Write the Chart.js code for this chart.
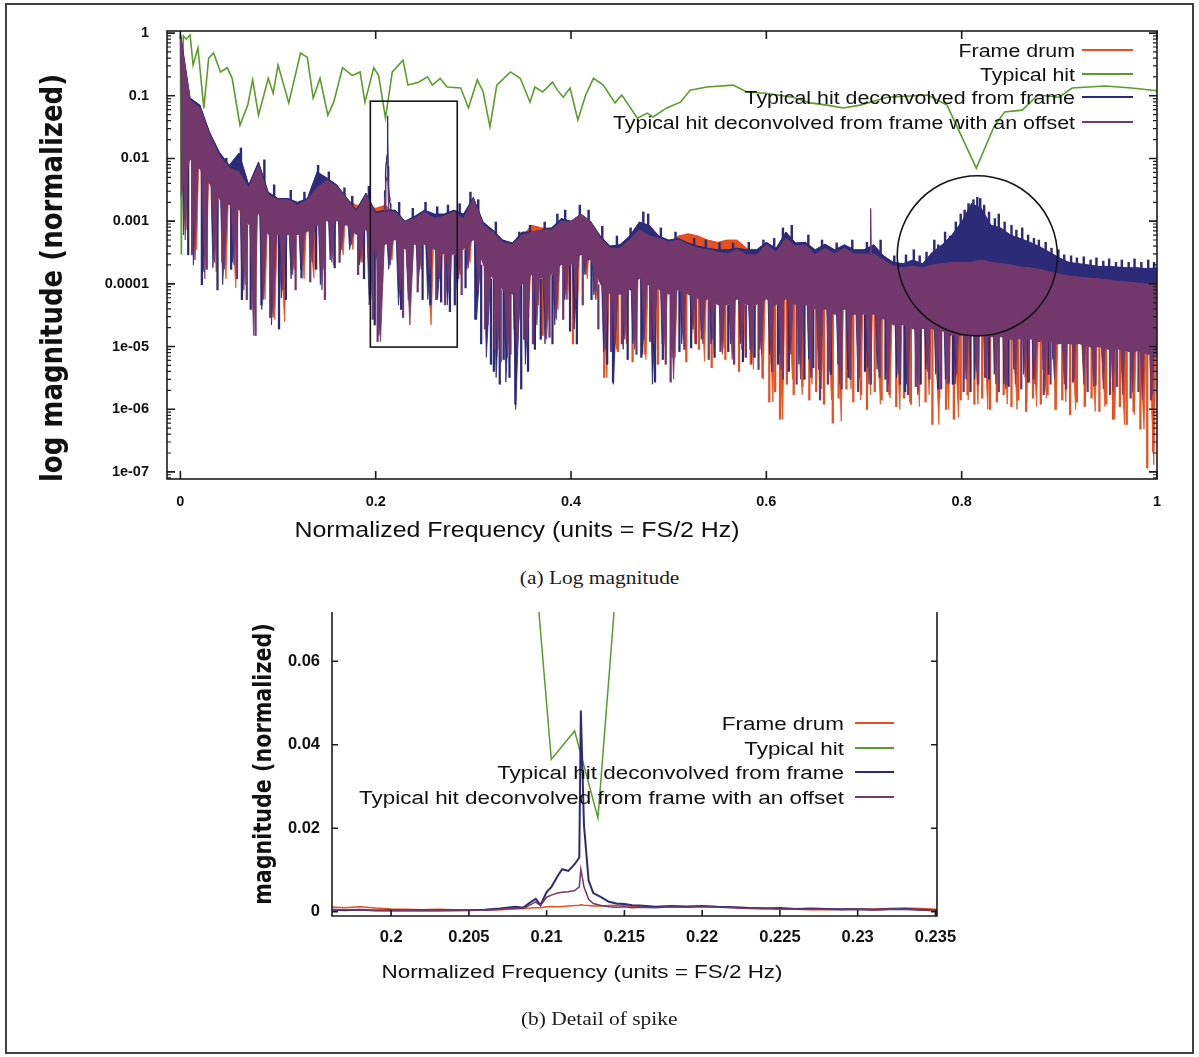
<!DOCTYPE html>
<html>
<head>
<meta charset="utf-8">
<title>Frame drum deconvolution spectra</title>
<script src="https://cdn.jsdelivr.net/npm/chart.js@4.4.1/dist/chart.umd.min.js"></script>
<style>
  html, body { margin: 0; padding: 0; background: #fff; }
  #page { position: relative; width: 1199px; height: 1057px; overflow: hidden; }
  #frame { position: absolute; left: 5px; top: 3px; width: 1189px; height: 1051px; box-sizing: border-box; border: 2px solid #404040; }
  #topChart { position: absolute; left: 0; top: 0; }
  #bottomChart { position: absolute; left: 0; top: 590px; }
  .caption { position: absolute; left: 0; width: 1199px; text-align: center; font-family: 'Liberation Serif', serif; font-size: 19.5px; color: #1a1a1a; }
  .caption span { display: inline-block; transform: scaleX(1.1); }
</style>
</head>
<body>
<div id="page">
  <div id="frame"></div>
  <canvas id="topChart" width="1199" height="560"></canvas>
  <div class="caption" style="top:567px"><span>(a) Log magnitude</span></div>
  <canvas id="bottomChart" width="1199" height="420"></canvas>
  <div class="caption" style="top:1008px"><span>(b) Detail of spike</span></div>
</div>
<script>
// series names (legend order)
const seriesNames = ['Frame drum', 'Typical hit', 'Typical hit deconvolved from frame', 'Typical hit deconvolved from frame with an offset'];

// ---- (a) log magnitude: spectra sampled as peak / dip pairs ----
const binFreq = [0, 0.01, 0.02, 0.03, 0.04, 0.05, 0.06, 0.07, 0.08, 0.09,
  0.10, 0.11, 0.12, 0.13, 0.14, 0.15, 0.16, 0.17, 0.18, 0.19,
  0.20, 0.21, 0.22, 0.23, 0.24, 0.25, 0.26, 0.27, 0.28, 0.29,
  0.30, 0.31, 0.32, 0.33, 0.34, 0.35, 0.36, 0.37, 0.38, 0.39,
  0.40, 0.41, 0.42, 0.43, 0.44, 0.45, 0.46, 0.47, 0.48, 0.49,
  0.50, 0.51, 0.52, 0.53, 0.54, 0.55, 0.56, 0.57, 0.58, 0.59,
  0.60, 0.61, 0.62, 0.63, 0.64, 0.65, 0.66, 0.67, 0.68, 0.69,
  0.70, 0.71, 0.72, 0.73, 0.74, 0.75, 0.76, 0.77, 0.78, 0.79,
  0.80, 0.81, 0.82, 0.83, 0.84, 0.85, 0.86, 0.87, 0.88, 0.89,
  0.90, 0.91, 0.92, 0.93, 0.94, 0.95, 0.96, 0.97, 0.98, 0.99, 1.00];
// where each series dips between two peaks
const offsetDipFreq = [0.005, 0.015, 0.025, 0.035, 0.045, 0.055, 0.065, 0.075, 0.085, 0.095,
  0.105, 0.115, 0.125, 0.135, 0.145, 0.155, 0.165, 0.175, 0.185, 0.195,
  0.205, 0.215, 0.225, 0.235, 0.245, 0.255, 0.265, 0.275, 0.285, 0.295,
  0.305, 0.315, 0.325, 0.335, 0.345, 0.355, 0.365, 0.375, 0.385, 0.395,
  0.405, 0.415, 0.425, 0.435, 0.445, 0.455, 0.465, 0.475, 0.485, 0.495,
  0.505, 0.515, 0.525, 0.535, 0.545, 0.555, 0.565, 0.575, 0.585, 0.595,
  0.605, 0.615, 0.625, 0.635, 0.645, 0.655, 0.665, 0.675, 0.685, 0.695,
  0.705, 0.715, 0.725, 0.735, 0.745, 0.755, 0.765, 0.775, 0.785, 0.795,
  0.805, 0.815, 0.825, 0.835, 0.845, 0.855, 0.865, 0.875, 0.885, 0.895,
  0.905, 0.915, 0.925, 0.935, 0.945, 0.955, 0.965, 0.975, 0.985, 0.995];
const decDipFreq = [0.0033, 0.0133, 0.0233, 0.0333, 0.0433, 0.0533, 0.0633, 0.0733, 0.0833, 0.0933,
  0.1033, 0.1133, 0.1233, 0.1333, 0.1433, 0.1533, 0.1633, 0.1733, 0.1833, 0.1933,
  0.2033, 0.2133, 0.2233, 0.2333, 0.2433, 0.2533, 0.2633, 0.2733, 0.2833, 0.2933,
  0.3033, 0.3133, 0.3233, 0.3333, 0.3433, 0.3533, 0.3633, 0.3733, 0.3833, 0.3933,
  0.4033, 0.4133, 0.4233, 0.4333, 0.4433, 0.4533, 0.4633, 0.4733, 0.4833, 0.4933,
  0.5033, 0.5133, 0.5233, 0.5333, 0.5433, 0.5533, 0.5633, 0.5733, 0.5833, 0.5933,
  0.6033, 0.6133, 0.6233, 0.6333, 0.6433, 0.6533, 0.6633, 0.6733, 0.6833, 0.6933,
  0.7033, 0.7133, 0.7233, 0.7333, 0.7433, 0.7533, 0.7633, 0.7733, 0.7833, 0.7933,
  0.8033, 0.8133, 0.8233, 0.8333, 0.8433, 0.8533, 0.8633, 0.8733, 0.8833, 0.8933,
  0.9033, 0.9133, 0.9233, 0.9333, 0.9433, 0.9533, 0.9633, 0.9733, 0.9833, 0.9933];
const drumDipFreq = [0.0067, 0.0167, 0.0267, 0.0367, 0.0467, 0.0567, 0.0667, 0.0767, 0.0867, 0.0967,
  0.1067, 0.1167, 0.1267, 0.1367, 0.1467, 0.1567, 0.1667, 0.1767, 0.1867, 0.1967,
  0.2067, 0.2167, 0.2267, 0.2367, 0.2467, 0.2567, 0.2667, 0.2767, 0.2867, 0.2967,
  0.3067, 0.3167, 0.3267, 0.3367, 0.3467, 0.3567, 0.3667, 0.3767, 0.3867, 0.3967,
  0.4067, 0.4167, 0.4267, 0.4367, 0.4467, 0.4567, 0.4667, 0.4767, 0.4867, 0.4967,
  0.5067, 0.5167, 0.5267, 0.5367, 0.5467, 0.5567, 0.5667, 0.5767, 0.5867, 0.5967,
  0.6067, 0.6167, 0.6267, 0.6367, 0.6467, 0.6567, 0.6667, 0.6767, 0.6867, 0.6967,
  0.7067, 0.7167, 0.7267, 0.7367, 0.7467, 0.7567, 0.7667, 0.7767, 0.7867, 0.7967,
  0.8067, 0.8167, 0.8267, 0.8367, 0.8467, 0.8567, 0.8667, 0.8767, 0.8867, 0.8967,
  0.9067, 0.9167, 0.9267, 0.9367, 0.9467, 0.9567, 0.9667, 0.9767, 0.9867, 0.9967];

// Frame drum
const drumTop = [1.0, 0.071, 0.059, 0.021, 0.0101, 0.0066, 0.0049, 0.0029, 0.0055, 0.0023,
  0.0018, 0.0018, 0.0016, 0.0018, 0.0026, 0.0034, 0.0026, 0.0022, 0.0018, 0.0018,
  0.0016, 0.0018, 0.0013, 8.6e-4, 9.7e-4, 1.1e-3, 9.7e-4, 9.7e-4, 1.1e-3, 9.7e-4,
  1.8e-3, 7.8e-4, 5.8e-4, 4.3e-4, 3.7e-4, 5.8e-4, 8.6e-4, 7.8e-4, 7.8e-4, 9.7e-4,
  8.6e-4, 1.1e-3, 8.6e-4, 5.0e-4, 3.5e-4, 3.5e-4, 4.6e-4, 6.7e-4, 5.0e-4, 5.0e-4,
  4.5e-4, 5.8e-4, 6.3e-4, 5.8e-4, 5.0e-4, 4.6e-4, 5.0e-4, 5.0e-4, 3.7e-4, 2.6e-4,
  3.5e-4, 2.8e-4, 4.2e-4, 3.5e-4, 3.5e-4, 2.6e-4, 3.2e-4, 2.6e-4, 3.2e-4, 2.6e-4,
  2.6e-4, 2.8e-4, 2.1e-4, 1.7e-4, 1.55e-4, 1.7e-4, 1.55e-4, 1.7e-4, 1.8e-4, 1.9e-4,
  1.9e-4, 1.9e-4, 1.9e-4, 1.8e-4, 1.7e-4, 1.55e-4, 1.43e-4, 1.33e-4, 1.24e-4, 1.15e-4,
  1.07e-4, 9.9e-5, 9.2e-5, 8.6e-5, 8.0e-5, 7.4e-5, 6.9e-5, 6.4e-5, 5.9e-5, 5.6e-5, 5.1e-5];
const drumLow = [7.2e-4, 3.5e-4, 2.2e-4, 1.55e-4, 1.2e-4, 8.6e-5, 9.7e-5, 3.6e-5, 5.6e-5, 2.7e-5,
  2.5e-5, 1.7e-4, 1.2e-4, 1.24e-4, 1.7e-4, 2.0e-4, 2.9e-4, 3.5e-4, 2.2e-4, 9.7e-5,
  8.0e-5, 2.4e-4, 1.55e-4, 1.2e-4, 1.7e-4, 2.2e-5, 9.7e-5, 1.2e-4, 1.4e-4, 2.2e-4,
  1.7e-4, 5.6e-5, 1.9e-5, 1.5e-5, 2.7e-5, 2.9e-5, 4.6e-5, 2.7e-5, 3.9e-5, 5.6e-5,
  3.9e-5, 1.2e-4, 5.6e-5, 3.2e-6, 9.0e-6, 1.1e-5, 9.8e-6, 6.2e-6, 9.0e-6, 7.5e-6,
  6.7e-6, 9.0e-6, 1.1e-5, 5.8e-6, 7.5e-6, 9.0e-6, 5.2e-6, 6.7e-6, 4.3e-6, 3.0e-6,
  1.3e-6, 6.9e-7, 3.0e-6, 1.7e-6, 2.5e-6, 2.1e-6, 1.4e-6, 6.4e-7, 2.1e-6, 1.4e-6,
  1.7e-6, 1.2e-6, 1.5e-6, 9.9e-7, 1.3e-6, 1.1e-6, 1.7e-6, 5.7e-7, 9.9e-7, 7.4e-7,
  1.4e-6, 1.2e-6, 9.9e-7, 1.4e-6, 1.2e-6, 9.9e-7, 1.3e-6, 1.1e-6, 1.5e-6, 9.9e-7,
  1.3e-6, 9.9e-7, 1.2e-6, 9.2e-7, 1.1e-6, 6.9e-7, 5.7e-7, 8.2e-7, 4.8e-7, 1.3e-7];
// single deep lines of the frame drum spectrum
const drumNeedleFreq = [0.342, 0.371, 0.402, 0.434, 0.448, 0.463, 0.476, 0.489, 0.503, 0.518,
  0.531, 0.544, 0.558, 0.572, 0.584, 0.596,
  0.603, 0.609, 0.614, 0.621, 0.628, 0.637, 0.644, 0.651, 0.659, 0.668,
  0.674, 0.682, 0.689, 0.697, 0.703, 0.711, 0.718, 0.726, 0.733, 0.741,
  0.748, 0.756, 0.763, 0.770, 0.777, 0.784, 0.792, 0.799, 0.806, 0.813,
  0.821, 0.829, 0.836, 0.843, 0.851, 0.858, 0.866, 0.873, 0.881, 0.888,
  0.896, 0.903, 0.911, 0.918, 0.926, 0.933, 0.941, 0.948, 0.955, 0.962,
  0.969, 0.976, 0.983, 0.990, 0.996];
const drumNeedleLow = [1.9e-5, 1.5e-5, 1.1e-5, 3.2e-6, 8.3e-6, 5.7e-6, 7.5e-6, 5.2e-6, 6.7e-6, 5.7e-6,
  9.0e-6, 4.6e-6, 6.2e-6, 4.0e-6, 5.2e-6, 3.2e-6,
  1.3e-6, 1.9e-6, 6.9e-7, 2.5e-6, 1.7e-6, 2.3e-6, 1.4e-6, 1.9e-6, 1.2e-6, 6.0e-7,
  1.5e-6, 2.1e-6, 1.3e-6, 1.7e-6, 9.9e-7, 1.9e-6, 1.4e-6, 1.7e-6, 1.1e-6, 1.5e-6,
  1.2e-6, 1.9e-6, 1.3e-6, 5.7e-7, 1.5e-6, 9.9e-7, 6.9e-7, 1.4e-6, 1.7e-6, 1.2e-6,
  1.5e-6, 9.9e-7, 1.3e-6, 1.7e-6, 1.1e-6, 1.4e-6, 9.2e-7, 1.5e-6, 1.2e-6, 1.7e-6,
  9.9e-7, 1.4e-6, 8.2e-7, 1.3e-6, 1.1e-6, 1.5e-6, 9.2e-7, 1.2e-6, 6.9e-7, 1.1e-6,
  5.7e-7, 9.2e-7, 4.8e-7, 1.15e-7, 2.1e-7];

// Typical hit
const hitFreq = [0, 0.001, 0.003, 0.006, 0.010, 0.013, 0.018, 0.024, 0.029, 0.034,
  0.041, 0.048, 0.053, 0.061, 0.069, 0.074, 0.080, 0.090, 0.095, 0.100,
  0.111, 0.123, 0.130, 0.136, 0.143, 0.151, 0.157, 0.166, 0.176, 0.184,
  0.189, 0.198, 0.203, 0.210, 0.217, 0.228, 0.233, 0.244, 0.253, 0.258,
  0.266, 0.273, 0.287, 0.295, 0.304, 0.310, 0.317, 0.324, 0.338, 0.348,
  0.358, 0.363, 0.371, 0.381, 0.386, 0.392, 0.399, 0.407, 0.415, 0.423,
  0.433, 0.445, 0.452, 0.468, 0.478, 0.484, 0.498, 0.512, 0.522, 0.539,
  0.566, 0.580, 0.599, 0.627, 0.645, 0.662, 0.679, 0.696, 0.724, 0.765,
  0.785, 0.798, 0.815, 0.833, 0.844, 0.862, 0.878, 0.900, 0.913, 0.947, 0.974, 1.000];
const hitMag = [0.85, 0.00029, 0.9, 0.8, 0.93, 0.31, 0.58, 0.063, 0.40, 0.48,
  0.24, 0.28, 0.19, 0.034, 0.071, 0.18, 0.049, 0.19, 0.11, 0.31,
  0.077, 0.48, 0.41, 0.092, 0.19, 0.049, 0.079, 0.28, 0.21, 0.24,
  0.079, 0.28, 0.21, 0.044, 0.24, 0.37, 0.148, 0.165, 0.20, 0.148,
  0.19, 0.138, 0.133, 0.064, 0.18, 0.115, 0.032, 0.148, 0.24, 0.19,
  0.079, 0.138, 0.115, 0.165, 0.123, 0.095, 0.133, 0.041, 0.103, 0.19,
  0.148, 0.077, 0.103, 0.044, 0.053, 0.046, 0.064, 0.079, 0.123, 0.138,
  0.148, 0.115, 0.11, 0.095, 0.077, 0.071, 0.064, 0.071, 0.095, 0.103,
  0.071, 0.026, 0.0070, 0.032, 0.055, 0.059, 0.103, 0.095, 0.133, 0.143, 0.133, 0.12];

// Typical hit deconvolved from frame
const decTop = [1.0, 0.092, 0.071, 0.026, 0.0126, 0.0078, 0.0122, 0.0038, 0.0088, 0.0029,
  0.0023, 0.0023, 0.0020, 0.0023, 0.0061, 0.0049, 0.0038, 0.0024, 0.0015, 0.0028,
  0.0014, 0.0015, 0.0015, 0.0010, 0.0012, 0.0015, 0.0013, 0.0013, 0.0015, 0.0013,
  0.0024, 9.7e-4, 7.2e-4, 5.0e-4, 4.5e-4, 6.7e-4, 6.7e-4, 7.2e-4, 7.8e-4, 1.1e-3,
  1.0e-3, 1.3e-3, 1.0e-3, 5.8e-4, 4.0e-4, 4.2e-4, 5.8e-4, 9.7e-4, 8.6e-4, 5.8e-4,
  5.0e-4, 5.3e-4, 4.5e-4, 4.0e-4, 3.7e-4, 3.5e-4, 3.5e-4, 3.7e-4, 3.5e-4, 3.5e-4,
  4.6e-4, 3.7e-4, 6.7e-4, 4.5e-4, 4.6e-4, 3.5e-4, 4.3e-4, 3.5e-4, 4.2e-4, 3.5e-4,
  3.5e-4, 4.2e-4, 2.8e-4, 2.2e-4, 2.1e-4, 2.4e-4, 2.1e-4, 3.2e-4, 4.2e-4, 6.0e-4,
  9.7e-4, 1.9e-3, 1.6e-3, 8.6e-4, 7.8e-4, 6.0e-4, 5.3e-4, 4.6e-4, 3.9e-4, 3.2e-4,
  2.6e-4, 2.2e-4, 2.1e-4, 2.0e-4, 1.9e-4, 1.9e-4, 1.85e-4, 1.8e-4, 1.8e-4, 1.75e-4, 1.8e-4];
const decLow = [6.0e-4, 2.0e-4, 1.55e-4, 1.8e-4, 9.7e-5, 2.2e-4, 5.6e-5, 8.0e-5, 3.9e-5, 2.2e-5,
  5.9e-5, 1.2e-4, 1.7e-4, 2.2e-4, 9.7e-5, 2.4e-4, 2.9e-4, 3.5e-4, 2.0e-4, 4.6e-5,
  1.5e-5, 1.7e-4, 4.6e-5, 5.6e-5, 9.7e-5, 5.6e-5, 5.6e-5, 4.6e-5, 8.0e-5, 1.7e-4,
  2.7e-5, 6.7e-6, 3.2e-6, 2.7e-6, 9.9e-7, 5.2e-6, 1.9e-5, 1.1e-5, 2.2e-5, 5.6e-5,
  1.9e-5, 1.4e-4, 6.7e-5, 8.3e-6, 2.5e-6, 9.0e-6, 1.1e-5, 7.5e-6, 2.5e-6, 1.1e-5,
  9.0e-6, 1.1e-5, 1.5e-5, 1.3e-5, 1.1e-5, 9.0e-6, 1.1e-5, 1.1e-5, 9.0e-6, 9.0e-6,
  7.5e-6, 7.5e-6, 9.0e-6, 5.2e-6, 6.2e-6, 4.3e-6, 6.2e-6, 5.2e-6, 4.3e-6, 5.2e-6,
  4.6e-6, 4.3e-6, 4.0e-6, 3.2e-6, 2.5e-6, 3.6e-6, 4.3e-6, 3.6e-6, 3.0e-6, 2.5e-6,
  3.0e-6, 3.0e-6, 4.3e-6, 3.6e-6, 2.5e-6, 4.3e-6, 3.6e-6, 3.0e-6, 4.3e-6, 6.2e-6,
  9.0e-6, 1.1e-5, 1.3e-5, 1.3e-5, 1.3e-5, 1.5e-5, 1.5e-5, 1.5e-5, 1.9e-5, 1.9e-5];
const decNeedleFreq = [0.008, 0.022, 0.038, 0.052, 0.063, 0.072, 0.083, 0.101, 0.108, 0.124,
  0.139, 0.158, 0.188, 0.199, 0.226, 0.248, 0.256, 0.267, 0.276, 0.281, 0.292,
  0.302, 0.308, 0.318, 0.321, 0.327, 0.331, 0.337, 0.343, 0.349, 0.356,
  0.363, 0.369, 0.381, 0.399, 0.406, 0.421, 0.437, 0.443, 0.458, 0.472, 0.486, 0.494,
  0.511, 0.523, 0.547, 0.561, 0.576, 0.588, 0.612, 0.623, 0.639, 0.648,
  0.666, 0.684, 0.701, 0.722, 0.742, 0.758, 0.776, 0.791, 0.809, 0.828, 0.848, 0.868, 0.889];
const decNeedleLow = [2.9e-4, 9.7e-5, 8.0e-5, 1.7e-4, 5.6e-5, 3.9e-5, 4.6e-5, 1.9e-5, 5.6e-5, 1.24e-4,
  1.7e-4, 1.8e-4, 1.2e-4, 2.2e-5, 3.9e-5, 5.6e-5, 4.6e-5, 5.1e-5, 3.6e-5, 4.6e-5, 8.6e-5,
  2.7e-5, 1.1e-5, 5.2e-6, 4.0e-6, 2.5e-6, 6.2e-6, 3.2e-6, 1.2e-6, 2.1e-6, 4.0e-6,
  9.0e-6, 1.3e-5, 1.1e-5, 1.75e-5, 1.1e-5, 5.6e-5, 5.2e-6, 2.7e-6, 6.2e-6, 6.7e-6, 2.7e-6, 6.2e-6,
  8.3e-6, 9.5e-6, 6.7e-6, 8.3e-6, 5.7e-6, 6.7e-6, 5.2e-6, 4.0e-6, 3.0e-6, 4.6e-6,
  3.6e-6, 3.2e-6, 4.0e-6, 3.0e-6, 1.9e-6, 2.5e-6, 2.1e-6, 2.5e-6, 1.9e-6, 3.0e-6, 2.3e-6, 2.7e-6, 3.6e-6];
// ragged crest of the deconvolved spectrum
const decCrestFreq = [0.047, 0.062, 0.075, 0.086, 0.096, 0.113, 0.127, 0.141, 0.152, 0.168,
  0.176, 0.193, 0.224, 0.238, 0.251, 0.263, 0.274, 0.286, 0.297, 0.305,
  0.323, 0.347, 0.358, 0.373, 0.386, 0.394, 0.409, 0.418, 0.432, 0.447,
  0.461, 0.474, 0.479, 0.492, 0.507, 0.526, 0.538, 0.552, 0.566, 0.582,
  0.597, 0.608, 0.617, 0.626, 0.643, 0.657, 0.672, 0.688, 0.703, 0.717,
  0.731, 0.743, 0.751, 0.757, 0.764, 0.772, 0.776, 0.783, 0.788, 0.794,
  0.799, 0.803, 0.807, 0.812, 0.816, 0.819, 0.823, 0.828, 0.834, 0.838,
  0.844, 0.851, 0.856, 0.862, 0.868, 0.874, 0.879, 0.886, 0.892, 0.899,
  0.905, 0.912, 0.918, 0.925, 0.932, 0.938, 0.945, 0.951, 0.958, 0.964,
  0.971, 0.977, 0.984, 0.991, 0.997];
const decCrestMag = [0.0101, 0.0147, 0.0049, 0.0095, 0.0038, 0.0031, 0.0029, 0.0078, 0.0061, 0.0034,
  0.0025, 0.0036, 0.0020, 0.0016, 0.0020, 0.0017, 0.0018, 0.0019, 0.0029, 0.0022,
  9.7e-4, 6.7e-4, 8.6e-4, 9.7e-4, 1.3e-3, 1.5e-3, 1.8e-3, 1.5e-3, 8.3e-4, 5.8e-4,
  7.8e-4, 1.4e-3, 1.3e-3, 7.8e-4, 6.7e-4, 5.3e-4, 5.0e-4, 4.5e-4, 4.5e-4, 4.6e-4,
  5.0e-4, 5.3e-4, 7.8e-4, 8.6e-4, 6.0e-4, 5.0e-4, 4.5e-4, 5.0e-4, 4.6e-4, 5.0e-4,
  2.8e-4, 2.9e-4, 3.5e-4, 2.8e-4, 3.2e-4, 5.0e-4, 4.2e-4, 6.7e-4, 5.8e-4, 9.7e-4,
  1.3e-3, 1.5e-3, 1.9e-3, 2.2e-3, 2.4e-3, 2.3e-3, 1.8e-3, 1.4e-3, 1.1e-3, 1.3e-3,
  9.7e-4, 8.6e-4, 7.2e-4, 7.8e-4, 6.0e-4, 5.3e-4, 5.0e-4, 4.6e-4, 3.7e-4, 3.5e-4,
  2.9e-4, 2.8e-4, 2.6e-4, 2.7e-4, 2.4e-4, 2.6e-4, 2.3e-4, 2.5e-4, 2.2e-4, 2.4e-4,
  2.2e-4, 2.5e-4, 2.2e-4, 2.4e-4, 2.2e-4];

// Typical hit deconvolved from frame with an offset
const offsetTop = [0.93, 0.085, 0.064, 0.024, 0.011, 0.0070, 0.0061, 0.0034, 0.0078, 0.0026,
  0.0022, 0.0022, 0.0018, 0.0022, 0.0034, 0.0045, 0.0036, 0.0023, 0.0014, 0.0026,
  0.0013, 0.0014, 0.0014, 9.7e-4, 1.1e-3, 1.4e-3, 1.1e-3, 1.2e-3, 1.4e-3, 1.1e-3,
  2.3e-3, 8.6e-4, 6.7e-4, 4.6e-4, 4.2e-4, 6.0e-4, 6.7e-4, 7.2e-4, 7.2e-4, 1.0e-3,
  9.7e-4, 1.3e-3, 9.7e-4, 5.3e-4, 3.7e-4, 3.7e-4, 5.0e-4, 7.2e-4, 5.8e-4, 5.3e-4,
  4.6e-4, 5.0e-4, 4.2e-4, 3.7e-4, 3.5e-4, 3.2e-4, 3.0e-4, 3.5e-4, 2.9e-4, 2.9e-4,
  4.2e-4, 3.2e-4, 5.3e-4, 4.0e-4, 4.2e-4, 2.9e-4, 3.7e-4, 3.0e-4, 3.7e-4, 3.0e-4,
  3.0e-4, 3.0e-4, 2.4e-4, 1.9e-4, 1.8e-4, 1.9e-4, 1.8e-4, 2.0e-4, 2.1e-4, 2.2e-4,
  2.2e-4, 2.2e-4, 2.4e-4, 2.2e-4, 2.1e-4, 2.0e-4, 1.85e-4, 1.8e-4, 1.7e-4, 1.55e-4,
  1.43e-4, 1.33e-4, 1.28e-4, 1.24e-4, 1.2e-4, 1.15e-4, 1.1e-4, 1.07e-4, 1.03e-4, 9.9e-5, 9.7e-5];
const offsetFloor = [2.2e-3, 9.5e-3, 6.6e-3, 3.8e-3, 2.2e-3, 1.8e-3, 1.5e-3, 8.6e-4, 1.3e-3, 6.0e-4,
  6.0e-4, 6.0e-4, 6.0e-4, 6.7e-4, 8.6e-4, 1.0e-3, 1.0e-3, 8.6e-4, 6.0e-4, 7.2e-4,
  3.5e-4, 4.2e-4, 5.0e-4, 3.5e-4, 4.2e-4, 4.2e-4, 3.5e-4, 2.9e-4, 2.9e-4, 3.5e-4,
  5.0e-4, 2.0e-4, 1.2e-4, 8.0e-5, 6.7e-5, 9.7e-5, 1.4e-4, 1.2e-4, 1.4e-4, 2.0e-4,
  2.0e-4, 2.9e-4, 2.4e-4, 9.7e-5, 6.7e-5, 6.7e-5, 8.0e-5, 1.2e-4, 9.7e-5, 8.0e-5,
  6.7e-5, 8.0e-5, 6.7e-5, 5.6e-5, 5.6e-5, 4.6e-5, 4.6e-5, 5.6e-5, 4.6e-5, 4.6e-5,
  5.6e-5, 4.6e-5, 5.6e-5, 4.6e-5, 4.6e-5, 3.9e-5, 3.9e-5, 3.2e-5, 3.9e-5, 3.2e-5,
  3.2e-5, 3.2e-5, 2.7e-5, 2.2e-5, 2.2e-5, 1.9e-5, 1.9e-5, 1.9e-5, 1.75e-5, 1.5e-5,
  1.5e-5, 1.5e-5, 1.5e-5, 1.4e-5, 1.4e-5, 1.3e-5, 1.3e-5, 1.3e-5, 1.2e-5, 1.2e-5,
  1.1e-5, 1.1e-5, 1.1e-5, 9.8e-6, 9.8e-6, 9.0e-6, 9.0e-6, 8.3e-6, 8.3e-6, 7.5e-6, 7.5e-6];
const offsetLow = [5.0e-4, 2.4e-4, 1.2e-4, 2.2e-4, 1.7e-4, 2.0e-4, 8.0e-5, 1.5e-5, 5.6e-5, 2.9e-5,
  8.0e-5, 1.4e-4, 2.0e-4, 2.2e-4, 8.0e-5, 2.2e-4, 3.5e-4, 4.2e-4, 2.2e-4, 5.6e-5,
  1.2e-5, 2.0e-4, 8.0e-5, 2.2e-5, 1.7e-4, 1.4e-4, 1.2e-4, 8.0e-5, 1.2e-4, 1.8e-4,
  8.0e-5, 2.2e-5, 9.0e-6, 6.7e-6, 8.3e-6, 1.2e-5, 2.2e-5, 1.3e-5, 2.7e-5, 5.6e-5,
  5.6e-5, 1.4e-4, 5.6e-5, 9.0e-6, 1.1e-5, 1.3e-5, 9.0e-6, 1.3e-5, 1.1e-5, 1.1e-5,
  3.0e-6, 1.3e-5, 1.9e-5, 1.1e-5, 1.3e-5, 7.5e-6, 6.2e-6, 9.0e-6, 5.2e-6, 7.5e-6,
  5.2e-6, 4.3e-6, 7.5e-6, 3.0e-6, 4.0e-6, 1.4e-6, 4.0e-6, 2.5e-6, 4.0e-6, 3.2e-6,
  2.5e-6, 4.0e-6, 2.5e-6, 3.6e-6, 2.3e-6, 1.7e-6, 4.0e-6, 3.0e-6, 2.5e-6, 3.6e-6,
  3.0e-6, 4.0e-6, 3.2e-6, 2.5e-6, 2.1e-6, 2.5e-6, 3.2e-6, 2.5e-6, 1.9e-6, 3.0e-6,
  2.5e-6, 3.0e-6, 2.5e-6, 2.3e-6, 2.1e-6, 1.9e-6, 1.7e-6, 1.9e-6, 1.4e-6, 1.7e-6];
const offsetNeedleFreq = [0.012, 0.027, 0.043, 0.058, 0.068, 0.077, 0.092, 0.118, 0.133, 0.148,
  0.163, 0.182, 0.197, 0.202, 0.228, 0.243, 0.262, 0.271, 0.288,
  0.312, 0.322, 0.328, 0.338, 0.352, 0.361, 0.378, 0.392, 0.412, 0.428, 0.441,
  0.452, 0.467, 0.481, 0.497, 0.502, 0.516, 0.528, 0.541, 0.553, 0.567, 0.579, 0.592,
  0.606, 0.617, 0.631, 0.646, 0.655, 0.663, 0.677, 0.686, 0.694, 0.707,
  0.716, 0.724, 0.737, 0.745, 0.753, 0.767, 0.779, 0.787, 0.802, 0.817,
  0.824, 0.838, 0.846, 0.861, 0.869, 0.884, 0.891, 0.907, 0.914, 0.929,
  0.937, 0.952, 0.959, 0.973, 0.981, 0.994];
const offsetNeedleLow = [2.9e-4, 1.7e-4, 2.2e-4, 1.2e-4, 5.6e-5, 1.5e-5, 2.9e-5, 8.0e-5, 1.07e-4, 5.6e-5,
  2.2e-4, 1.4e-4, 2.7e-5, 1.2e-5, 2.9e-5, 7.4e-5, 5.6e-5, 4.6e-5, 6.7e-5,
  1.9e-5, 9.0e-6, 5.7e-6, 7.5e-6, 1.3e-5, 1.1e-5, 1.4e-5, 2.7e-5, 4.6e-5, 1.9e-5, 8.3e-6,
  1.1e-5, 7.5e-6, 1.2e-5, 5.2e-6, 2.7e-6, 9.0e-6, 1.1e-5, 6.2e-6, 8.3e-6, 5.2e-6, 6.7e-6, 4.3e-6,
  4.0e-6, 3.0e-6, 2.5e-6, 3.2e-6, 1.4e-6, 2.5e-6, 2.1e-6, 3.0e-6, 1.9e-6, 2.5e-6,
  3.2e-6, 1.9e-6, 2.5e-6, 1.7e-6, 2.3e-6, 3.0e-6, 2.1e-6, 2.6e-6, 1.9e-6, 2.5e-6,
  3.2e-6, 1.9e-6, 2.5e-6, 2.1e-6, 2.7e-6, 1.7e-6, 2.5e-6, 2.1e-6, 2.7e-6, 1.9e-6,
  2.4e-6, 1.7e-6, 2.3e-6, 1.5e-6, 1.9e-6, 1.4e-6];
const offsetPeakFreq = [0.7062, 0.7068, 0.7074];
const offsetPeakMag = [3.0e-4, 1.6e-3, 3.0e-4];

// ---- (b) detail of the spike, linear magnitude ----
const detailFreq = [0.196, 0.197, 0.198, 0.199, 0.200, 0.201, 0.202, 0.203, 0.204, 0.205,
  0.206, 0.207, 0.208, 0.2085, 0.209, 0.2093, 0.2096, 0.210, 0.2103, 0.2107,
  0.211, 0.2114, 0.2118, 0.2121, 0.2122, 0.2124, 0.2127, 0.213, 0.2135, 0.214,
  0.2145, 0.215, 0.2155, 0.216, 0.217, 0.218, 0.219, 0.220, 0.221, 0.222,
  0.223, 0.224, 0.225, 0.226, 0.227, 0.228, 0.229, 0.230, 0.231, 0.232,
  0.233, 0.234, 0.235, 0.2355];
const drumDetail = [0.0012, 0.0010, 0.0012, 0.0009, 0.0007, 0.0006, 0.0005, 0.0006, 0.0005, 0.0004,
  0.0004, 0.0005, 0.0007, 0.0008, 0.0009, 0.0010, 0.0010, 0.0012, 0.0013, 0.0012,
  0.0013, 0.0014, 0.0015, 0.0016, 0.0017, 0.0016, 0.0015, 0.0014, 0.0014, 0.0015,
  0.0016, 0.0015, 0.0013, 0.0012, 0.0011, 0.0013, 0.0012, 0.0013, 0.0012, 0.0011,
  0.0010, 0.0009, 0.0007, 0.0006, 0.0005, 0.0005, 0.0006, 0.0007, 0.0007, 0.0008,
  0.0009, 0.0008, 0.0006, 0.0006];
const decDetail = [0.0005, 0.0004, 0.0005, 0.0003, 0.0004, 0.0003, 0.0004, 0.0003, 0.0004, 0.0004,
  0.0005, 0.0008, 0.0012, 0.0010, 0.0024, 0.0031, 0.0016, 0.0047, 0.0059, 0.0085,
  0.0102, 0.0098, 0.0114, 0.0130, 0.0482, 0.0208, 0.0075, 0.0045, 0.0035, 0.0024,
  0.0020, 0.0019, 0.0016, 0.0015, 0.0012, 0.0014, 0.0013, 0.0014, 0.0012, 0.0011,
  0.0009, 0.0008, 0.0009, 0.0007, 0.0008, 0.0007, 0.0006, 0.0006, 0.0005, 0.0006,
  0.0007, 0.0005, 0.0003, 0.0003];
const offsetDetail = [0.0006, 0.0005, 0.0004, 0.0004, 0.0003, 0.0004, 0.0003, 0.0004, 0.0003, 0.0004,
  0.0004, 0.0006, 0.0009, 0.0008, 0.0018, 0.0024, 0.0015, 0.0035, 0.0040, 0.0045,
  0.0047, 0.0048, 0.0051, 0.0060, 0.0102, 0.0060, 0.0030, 0.0020, 0.0015, 0.0012,
  0.0011, 0.0012, 0.0010, 0.0011, 0.0010, 0.0012, 0.0011, 0.0013, 0.0011, 0.0010,
  0.0008, 0.0008, 0.0007, 0.0007, 0.0006, 0.0006, 0.0005, 0.0006, 0.0005, 0.0006,
  0.0006, 0.0005, 0.0003, 0.0003];
const hitDetailFreq = [0.1966, 0.1981, 0.1996, 0.2011, 0.2026, 0.2041, 0.2057, 0.2072, 0.2088, 0.2103,
  0.2118, 0.2133, 0.2148, 0.2163, 0.2179, 0.2194, 0.2209, 0.2224, 0.2240, 0.2255,
  0.2270, 0.2285, 0.2301, 0.2316, 0.2331, 0.2346, 0.2362];
const hitDetailMag = [0.26, 0.28, 0.27, 0.24, 0.21, 0.19, 0.17, 0.14, 0.103, 0.0365,
  0.0433, 0.0225, 0.094, 0.16, 0.22, 0.24, 0.27, 0.31, 0.35, 0.37,
  0.30, 0.22, 0.17, 0.15, 0.15, 0.16, 0.17];

// ticks
const freqTicks = [0, 0.2, 0.4, 0.6, 0.8, 1];
const freqTickLabels = ['0', '0.2', '0.4', '0.6', '0.8', '1'];
const logTicks = [1e-7, 1e-6, 1e-5, 1e-4, 1e-3, 1e-2, 1e-1, 1];
const logTickLabels = ['1e-07', '1e-06', '1e-05', '0.0001', '0.001', '0.01', '0.1', '1'];
const detailFreqTicks = [0.2, 0.205, 0.21, 0.215, 0.22, 0.225, 0.23, 0.235];
const detailFreqLabels = ['0.2', '0.205', '0.21', '0.215', '0.22', '0.225', '0.23', '0.235'];
const magTicks = [0, 0.02, 0.04, 0.06];
const magTickLabels = ['0', '0.02', '0.04', '0.06'];

// hand-drawn marks on figure (a), in data units
const zoomBox = {xMin: 0.1945, xMax: 0.2835, yMin: 9.8e-6, yMax: 0.082};
const peakCircle = {x: 0.816, y: 2.8e-4, r: 0.082};

const drumColor = '#e5501e';
const hitColor = '#5c9c2c';
const decColor = '#2b2b78';
const offsetColor = '#72386c';
const seriesColors = [drumColor, hitColor, decColor, offsetColor];
const hStretch = 1.17;

const pairs = (xs, ys) => xs.map((x, i) => ({x: x, y: ys[i]}));
function comb(tops, lows, dipFreq) {
  const pts = [];
  binFreq.forEach((f, i) => {
    pts.push({x: f, y: tops[i]});
    if (i < dipFreq.length) pts.push({x: dipFreq[i], y: lows[i]});
  });
  return pts;
}
// floating bars hanging from the value of the nearest bin in `base`
const bars = (xs, ends, base) => xs.map((x, i) => ({x: x, y: [ends[i], base[Math.round(x * 100)]]}));

function line(label, data, color, width, order, fill) {
  return {
    label: label, data: data, borderColor: color, backgroundColor: color,
    borderWidth: width, pointRadius: 0, tension: 0, order: order,
    fill: fill === undefined ? false : fill
  };
}
function needles(label, data, color, thickness, order) {
  return {type: 'bar', label: label, data: data, backgroundColor: color, borderWidth: 0,
    barThickness: thickness, grouped: false, order: order};
}

function stretchedText(ctx, text, x, y, align, font, rotate) {
  ctx.save();
  ctx.translate(x, y);
  ctx.scale(hStretch, 1);
  if (rotate) ctx.rotate(-Math.PI / 2);
  ctx.font = font;
  ctx.fillStyle = '#111';
  ctx.textAlign = align;
  ctx.textBaseline = 'alphabetic';
  ctx.fillText(text, 0, 0);
  ctx.restore();
}

function legendPlugin(id, o) {
  return {
    id: id,
    afterDatasetsDraw(chart) {
      const ctx = chart.ctx;
      seriesNames.forEach((name, i) => {
        const yc = o.rows[i];
        stretchedText(ctx, name, o.textRight, yc + o.size * 0.36, 'right', o.size + 'px "Liberation Sans", Arial, sans-serif');
        ctx.save();
        ctx.strokeStyle = seriesColors[i];
        ctx.lineWidth = 2;
        ctx.beginPath();
        ctx.moveTo(o.lineStart, yc);
        ctx.lineTo(o.lineEnd, yc);
        ctx.stroke();
        ctx.restore();
      });
    }
  };
}

function titlesPlugin(id, o) {
  return {
    id: id,
    afterDraw(chart) {
      const ctx = chart.ctx;
      stretchedText(ctx, o.yTitle, o.yX, o.yY, 'center', 'bold ' + o.ySize + 'px "DejaVu Sans", sans-serif', true);
      stretchedText(ctx, o.xTitle, o.xX, o.xY, 'center', o.xSize + 'px "Liberation Sans", Arial, sans-serif');
    }
  };
}

const topFrame = {
  id: 'topFrame',
  afterDraw(chart) {
    const {ctx, chartArea: a} = chart;
    const xs = chart.scales.x, ys = chart.scales.y;
    ctx.save();
    ctx.strokeStyle = '#1c1c1c';
    ctx.lineWidth = 1.6;
    ctx.strokeRect(a.left, a.top, a.right - a.left, a.bottom - a.top);
    ctx.beginPath();
    freqTicks.forEach(v => {
      const px = xs.getPixelForValue(v);
      ctx.moveTo(px, a.bottom); ctx.lineTo(px, a.bottom - 8);
      ctx.moveTo(px, a.top); ctx.lineTo(px, a.top + 8);
    });
    logTicks.forEach(v => {
      const py = ys.getPixelForValue(v);
      ctx.moveTo(a.left, py); ctx.lineTo(a.left + 8, py);
      ctx.moveTo(a.right, py); ctx.lineTo(a.right - 8, py);
    });
    ctx.stroke();
    ctx.lineWidth = 1.2;
    ctx.beginPath();
    [1e-8].concat(logTicks).forEach(d => {
      for (let k = 2; k <= 9; k++) {
        const m = d * k;
        if (m < ys.min || m > ys.max) continue;
        const py = ys.getPixelForValue(m);
        ctx.moveTo(a.left, py); ctx.lineTo(a.left + 4, py);
        ctx.moveTo(a.right, py); ctx.lineTo(a.right - 4, py);
      }
    });
    ctx.stroke();
    ctx.restore();
  }
};

const topMarks = {
  id: 'topMarks',
  afterDatasetsDraw(chart) {
    const ctx = chart.ctx;
    const xs = chart.scales.x, ys = chart.scales.y;
    ctx.save();
    ctx.strokeStyle = '#151515';
    ctx.lineWidth = 1.6;
    const x0 = xs.getPixelForValue(zoomBox.xMin), x1 = xs.getPixelForValue(zoomBox.xMax);
    const y0 = ys.getPixelForValue(zoomBox.yMax), y1 = ys.getPixelForValue(zoomBox.yMin);
    ctx.strokeRect(x0, y0, x1 - x0, y1 - y0);
    const cx = xs.getPixelForValue(peakCircle.x), cy = ys.getPixelForValue(peakCircle.y);
    const r = xs.getPixelForValue(peakCircle.x + peakCircle.r) - cx;
    ctx.beginPath();
    ctx.arc(cx, cy, r, 0, Math.PI * 2);
    ctx.stroke();
    ctx.restore();
  }
};

const bottomFrame = {
  id: 'bottomFrame',
  afterDraw(chart) {
    const {ctx, chartArea: a} = chart;
    const xs = chart.scales.x, ys = chart.scales.y;
    ctx.save();
    ctx.strokeStyle = '#1c1c1c';
    ctx.lineWidth = 1.6;
    ctx.beginPath();
    ctx.moveTo(a.left, a.top); ctx.lineTo(a.left, a.bottom); ctx.lineTo(a.right, a.bottom); ctx.lineTo(a.right, a.top);
    detailFreqTicks.forEach(v => {
      const px = xs.getPixelForValue(v);
      ctx.moveTo(px, a.bottom); ctx.lineTo(px, a.bottom - 6);
    });
    magTicks.forEach(v => {
      const py = ys.getPixelForValue(v);
      ctx.moveTo(a.left, py); ctx.lineTo(a.left + 6, py);
      ctx.moveTo(a.right, py); ctx.lineTo(a.right - 6, py);
    });
    ctx.stroke();
    ctx.restore();
  }
};

const tickFontTop = {family: '"Liberation Sans", Arial, sans-serif', size: 14.5, weight: 'bold'};
const tickFontBottom = {family: '"Liberation Sans", Arial, sans-serif', size: 16.5, weight: 'bold'};

new Chart(document.getElementById('topChart'), {
  type: 'line',
  data: {
    datasets: [
      line(seriesNames[1], pairs(hitFreq, hitMag), hitColor, 1.6, 7),
      line(seriesNames[3], pairs(binFreq, offsetTop), offsetColor, 1, 1, 2),
      line('offset floor', pairs(binFreq, offsetFloor), 'rgba(0,0,0,0)', 1, 2),
      line('offset dips', comb(offsetTop, offsetLow, offsetDipFreq), offsetColor, 0.8, 3, 1),
      line('offset peak', pairs(offsetPeakFreq, offsetPeakMag), offsetColor, 1.3, 0),
      line('offset detail', pairs(detailFreq, offsetDetail), offsetColor, 1.2, 0),
      line(seriesNames[2], pairs(binFreq, decTop), decColor, 1, 5, 1),
      line('deconvolved dips', comb(decTop, decLow, decDipFreq), decColor, 0.8, 6, 6),
      line('deconvolved detail', pairs(detailFreq, decDetail), decColor, 1.4, 4),
      line(seriesNames[0], pairs(binFreq, drumTop), drumColor, 1, 8, 1),
      line('frame drum dips', comb(drumTop, drumLow, drumDipFreq), drumColor, 0.8, 9, 9),
      needles('offset needles', bars(offsetNeedleFreq, offsetNeedleLow, offsetFloor), offsetColor, 1.6, 3),
      needles('deconvolved needles', bars(decNeedleFreq, decNeedleLow, offsetFloor), decColor, 1.6, 6),
      needles('deconvolved crest', bars(decCrestFreq, decCrestMag, offsetFloor), decColor, 1.8, 5),
      needles('frame drum needles', bars(drumNeedleFreq, drumNeedleLow, offsetFloor), drumColor, 1.6, 9)
    ]
  },
  options: {
    responsive: false,
    animation: false,
    events: [],
    layout: {padding: {left: 0, right: 42, top: 31, bottom: 0}},
    plugins: {legend: {display: false}, tooltip: {enabled: false}},
    scales: {
      x: {
        type: 'linear', min: -0.0137, max: 1, offset: false,
        grid: {display: false, drawTicks: false, offset: false}, border: {display: false},
        afterBuildTicks: s => { s.ticks = freqTicks.map(v => ({value: v})); },
        afterFit: s => { s.height = 81; },
        ticks: {padding: 14, font: tickFontTop, color: '#111', maxRotation: 0, autoSkip: false,
          callback: (v, i) => freqTickLabels[i]}
      },
      y: {
        type: 'logarithmic', min: 7.7e-8, max: 1.08, beginAtZero: false,
        grid: {display: false, drawTicks: false}, border: {display: false},
        afterBuildTicks: s => { s.ticks = logTicks.map(v => ({value: v})); },
        afterFit: s => { s.width = 167; },
        ticks: {padding: 18, font: tickFontTop, color: '#111', autoSkip: false,
          callback: (v, i) => logTickLabels[i]}
      }
    }
  },
  plugins: [
    topMarks, topFrame,
    legendPlugin('topLegend', {rows: [50, 74, 97, 122], textRight: 1075, lineStart: 1082, lineEnd: 1133, size: 18.3}),
    titlesPlugin('topTitles', {yTitle: 'log magnitude (normalized)', yX: 62, yY: 278, ySize: 26,
      xTitle: 'Normalized Frequency (units = FS/2 Hz)', xX: 517, xY: 537, xSize: 21.3})
  ]
});

new Chart(document.getElementById('bottomChart'), {
  type: 'line',
  data: {
    datasets: [
      line(seriesNames[3], pairs(detailFreq, offsetDetail), offsetColor, 1.5, 0),
      line(seriesNames[2], pairs(detailFreq, decDetail), decColor, 2, 1),
      line(seriesNames[1], pairs(hitDetailFreq, hitDetailMag), hitColor, 1.5, 2),
      line(seriesNames[0], pairs(detailFreq, drumDetail), drumColor, 1.5, 3)
    ]
  },
  options: {
    responsive: false,
    animation: false,
    events: [],
    layout: {padding: {left: 0, right: 262, top: 17, bottom: 0}},
    plugins: {legend: {display: false}, tooltip: {enabled: false}},
    scales: {
      x: {
        type: 'linear', min: 0.1962, max: 0.2351,
        grid: {display: false, drawTicks: false}, border: {display: false},
        afterBuildTicks: s => { s.ticks = detailFreqTicks.map(v => ({value: v})); },
        afterFit: s => { s.height = 94; },
        ticks: {padding: 12, font: tickFontBottom, color: '#111', maxRotation: 0, autoSkip: false,
          callback: (v, i) => detailFreqLabels[i]}
      },
      y: {
        type: 'linear', min: -0.001, max: 0.0718,
        grid: {display: false, drawTicks: false}, border: {display: false},
        afterBuildTicks: s => { s.ticks = magTicks.map(v => ({value: v})); },
        afterFit: s => { s.width = 332; },
        ticks: {padding: 12, font: tickFontBottom, color: '#111', autoSkip: false,
          callback: (v, i) => magTickLabels[i]}
      }
    }
  },
  plugins: [
    bottomFrame,
    legendPlugin('bottomLegend', {rows: [133, 158, 182, 207], textRight: 844, lineStart: 855, lineEnd: 894, size: 19.2}),
    titlesPlugin('bottomTitles', {yTitle: 'magnitude (normalized)', yX: 271, yY: 174, ySize: 20.7,
      xTitle: 'Normalized Frequency (units = FS/2 Hz)', xX: 582, xY: 388, xSize: 19.2})
  ]
});
</script>
</body>
</html>
